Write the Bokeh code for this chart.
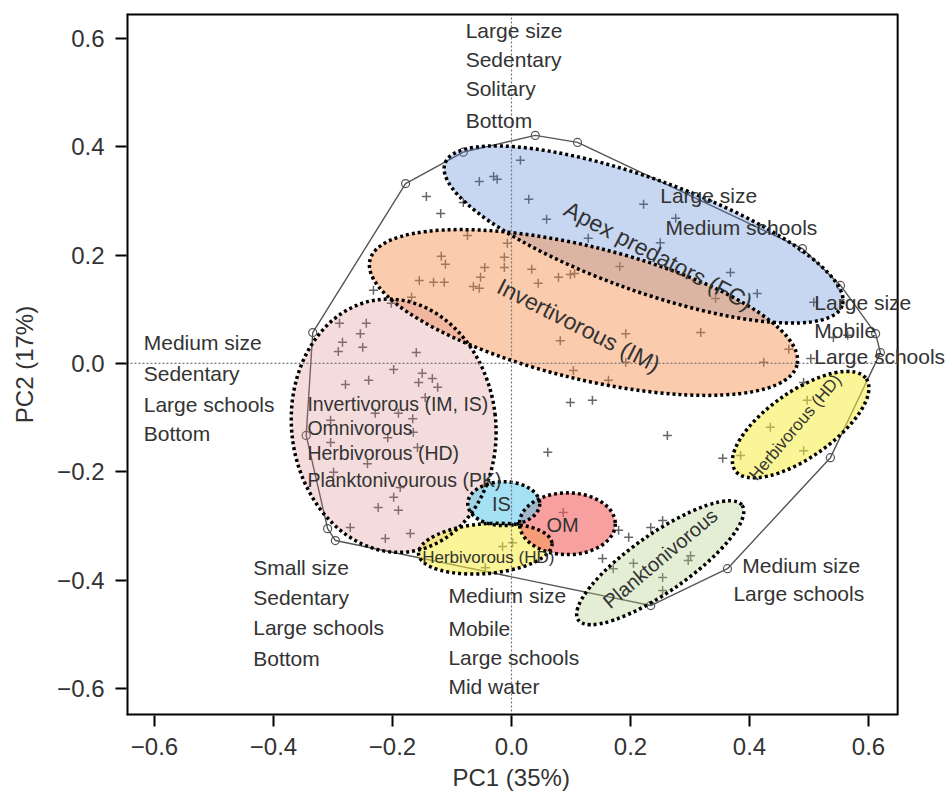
from bokeh.plotting import figure
from bokeh.models import Range1d, FixedTicker, ColumnDataSource, Title
from bokeh.embed import file_html
from bokeh.resources import INLINE
from bokeh.core.properties import value

# ---------------- data ----------------
pc1 = [0.015, -0.054, -0.030, -0.024, 0.029, 0.059, -0.143, -0.119, -0.081, 0.222,
       0.129, 0.250, 0.276, 0.368, 0.343, 0.413, 0.508, 0.182, -0.074, -0.007,
       -0.118, -0.111, -0.045, -0.012, -0.012, 0.034, -0.155, -0.131, -0.113, -0.052,
       -0.064, -0.054, 0.045, 0.079, 0.099, 0.106, -0.232, -0.168, -0.202, 0.082,
       0.192, 0.318, 0.104, 0.163, 0.424, 0.466, 0.192, 0.541, 0.565, 0.503,
       0.491, -0.289, -0.244, -0.284, -0.254, -0.250, -0.291, -0.160, -0.198, -0.240,
       -0.279, -0.150, -0.133, -0.156, -0.124, -0.145, -0.304, -0.229, -0.190, -0.166,
       -0.165, -0.208, -0.304, -0.242, -0.158, -0.299, -0.187, -0.198, -0.224, -0.190,
       -0.271, -0.212, -0.170, 0.061, 0.087, -0.015, 0.002, -0.044, 0.180, 0.197,
       0.153, 0.171, 0.205, 0.234, 0.254, 0.297, 0.301, 0.254, 0.254, 0.099,
       0.136, 0.262, 0.355, 0.385, 0.435, 0.491, 0.497]
pc2 = [0.375, 0.336, 0.345, 0.340, 0.303, 0.266, 0.308, 0.277, 0.297, 0.294,
       0.231, 0.223, 0.268, 0.168, 0.120, 0.129, 0.113, 0.179, 0.236, 0.222,
       0.198, 0.183, 0.177, 0.196, 0.177, 0.174, 0.153, 0.150, 0.150, 0.159,
       0.142, 0.139, 0.148, 0.159, 0.164, 0.166, 0.135, 0.122, 0.111, 0.042,
       0.055, 0.057, -0.013, -0.031, 0.002, 0.026, 0.002, 0.048, 0.052, 0.009,
       -0.035, 0.074, 0.074, 0.039, 0.055, 0.030, 0.022, 0.020, -0.011, -0.031,
       -0.039, -0.018, -0.028, -0.035, -0.044, -0.063, -0.105, -0.092, -0.092, -0.102,
       -0.127, -0.137, -0.146, -0.185, -0.155, -0.201, -0.229, -0.247, -0.266, -0.271,
       -0.303, -0.323, -0.314, -0.164, -0.275, -0.338, -0.331, -0.377, -0.308, -0.321,
       -0.360, -0.379, -0.369, -0.303, -0.290, -0.364, -0.355, -0.395, -0.419, -0.072,
       -0.068, -0.133, -0.175, -0.170, -0.118, -0.161, -0.068]

hull_pc1 = [-0.334, -0.178, -0.081, 0.040, 0.111, 0.489, 0.553, 0.612, 0.620,
            0.536, 0.363, 0.234, -0.296, -0.309, -0.345]
hull_pc2 = [0.057, 0.332, 0.390, 0.421, 0.408, 0.212, 0.144, 0.055, 0.020,
            -0.174, -0.379, -0.447, -0.327, -0.305, -0.133]

# ellipses (drawing order)
ell_x = [0.222, 0.121, -0.198, -0.044, 0.094, -0.013, 0.250, 0.486]
ell_y = [0.238, 0.094, -0.115, -0.342, -0.296, -0.259, -0.368, -0.113]
ell_w = [0.709, 0.739, 0.343, 0.225, 0.161, 0.121, 0.336, 0.269]
ell_h = [0.207, 0.244, 0.469, 0.092, 0.114, 0.081, 0.107, 0.122]
ell_angle = [-0.344, -0.241, 0.12, 0.08, 0.0, 0.0, 0.61, 0.61]
ell_color = ["#4678d2", "#f58c46", "#d78282", "#f6ed40", "#f36161", "#5bc8ed", "#b2ce84", "#f6ed40"]
ell_alpha = [0.30, 0.45, 0.28, 0.55, 0.60, 0.55, 0.35, 0.55]

# trait annotations
trait_text = ["Large size", "Sedentary", "Solitary", "Bottom",
              "Large size", "Medium schools",
              "Large size", "Mobile", "Large schools",
              "Medium size", "Sedentary", "Large schools", "Bottom",
              "Small size", "Sedentary", "Large schools", "Bottom",
              "Medium size", "Mobile", "Large schools", "Mid water",
              "Medium size", "Large schools"]
trait_x = [-0.077, -0.077, -0.077, -0.077,
           0.250, 0.259,
           0.509, 0.509, 0.509,
           -0.618, -0.618, -0.618, -0.618,
           -0.434, -0.434, -0.434, -0.434,
           -0.106, -0.106, -0.106, -0.106,
           0.388, 0.373]
trait_y = [0.615, 0.561, 0.508, 0.449,
           0.310, 0.251,
           0.113, 0.061, 0.013,
           0.039, -0.018, -0.076, -0.129,
           -0.377, -0.432, -0.488, -0.545,
           -0.428, -0.489, -0.543, -0.596,
           -0.373, -0.425]

diet_text = ["Invertivorous (IM, IS)", "Omnivorous", "Herbivorous (HD)", "Planktonivourous (PK)"]
diet_x = [-0.343, -0.343, -0.343, -0.343]
diet_y = [-0.074, -0.120, -0.166, -0.216]

group_text = ["Apex predators (FC)", "Invertivorous (IM)", "IS", "OM",
              "Herbivorous (HD)", "Planktonivorous", "Herbivorous (HD)"]
group_x = [0.247, 0.113, -0.017, 0.086, -0.039, 0.250, 0.477]
group_y = [0.199, 0.070, -0.260, -0.299, -0.358, -0.360, -0.118]
group_angle = [-0.48, -0.47, 0.0, 0.0, 0.0, 0.70, 0.87]
group_size = ["23px", "23px", "20px", "20px", "17px", "20px", "17px"]

ticks = [-0.6, -0.4, -0.2, 0.0, 0.2, 0.4, 0.6]
tick_labels = ["\u22120.6", "\u22120.4", "\u22120.2", "0.0", "0.2", "0.4", "0.6"]
x_title = "PC1 (35%)"
y_title = "PC2 (17%)"

# axis limits of the boxed panel
X0, X1 = -0.647, 0.649
Y0, Y1 = -0.650, 0.646
X_VIEW_END = 0.7395   # canvas runs past the box so right-hand labels can overhang

FONT = "Liberation Sans"
TXT = "#333333"

# ---------------- figure ----------------
p = figure(width=951, height=795, output_backend="svg", toolbar_location=None,
           x_range=Range1d(X0, X_VIEW_END), y_range=Range1d(Y0, Y1),
           frame_width=825, frame_height=702,
           min_border_left=126, min_border_top=13, min_border_right=0, min_border_bottom=40)
p.grid.visible = False
p.outline_line_color = None
p.background_fill_color = "white"

for ax in (p.xaxis, p.yaxis):
    ax.ticker = FixedTicker(ticks=ticks)
    ax.major_label_overrides = dict(zip(ticks, tick_labels))
    ax.axis_line_color = None
    ax.major_tick_in = 0
    ax.major_tick_out = 11
    ax.major_tick_line_width = 2
    ax.major_tick_line_color = "black"
    ax.minor_tick_line_color = None
    ax.major_label_text_font = FONT
    ax.major_label_text_font_size = "24px"
    ax.major_label_text_color = TXT
    ax.major_label_standoff = 11
    ax.axis_label_text_font = FONT
    ax.axis_label_text_font_size = "24px"
    ax.axis_label_text_font_style = "normal"
    ax.axis_label_text_color = TXT
p.yaxis.axis_label = y_title
p.yaxis.axis_label_standoff = 16

# x title centred under the boxed panel (not under the wider canvas)
p.add_layout(Title(text=x_title, align="left", offset=326, standoff=8,
                   text_font=FONT, text_font_size="24px", text_font_style="normal",
                   text_color=TXT), "below")

# points
p.scatter(pc1, pc2, marker="cross", size=9, line_color="#666666", line_width=1.5)

# convex hull
p.line(hull_pc1 + hull_pc1[:1], hull_pc2 + hull_pc2[:1], line_color="#555555", line_width=1.4)
p.scatter(hull_pc1, hull_pc2, marker="circle", size=8, fill_color=None,
          line_color="#555555", line_width=1.2)

# ellipses
esrc = ColumnDataSource(dict(x=ell_x, y=ell_y, w=ell_w, h=ell_h, a=ell_angle,
                             c=ell_color, al=ell_alpha))
p.ellipse(x="x", y="y", width="w", height="h", angle="a", source=esrc,
          fill_color="c", fill_alpha="al", line_color=None)
p.ellipse(x="x", y="y", width="w", height="h", angle="a", source=esrc,
          fill_color=None, line_color="black", line_width=3.5, line_dash="3 3")

# zero lines (limited to the box)
p.segment(x0=[0, X0], y0=[Y0, 0], x1=[0, X1], y1=[Y1, 0],
          line_color="#777777", line_width=1.2, line_dash="2 2")

# panel box: left/top/bottom edges sit on the frame edge (half clipped), right edge inside
p.segment(x0=[X0, X0, X0], y0=[Y0, Y1, Y0], x1=[X0, X1, X1], y1=[Y1, Y1, Y0],
          line_color="black", line_width=4)
p.segment(x0=[X1], y0=[Y0], x1=[X1], y1=[Y1], line_color="black", line_width=2)

# texts
p.text(trait_x, trait_y, text=trait_text, text_font=value(FONT), text_font_size=value("21px"),
       text_align="left", text_baseline="middle", text_color=TXT)
p.text(diet_x, diet_y, text=diet_text, text_font=value(FONT), text_font_size=value("19.5px"),
       text_align="left", text_baseline="middle", text_color=TXT)
gsrc = ColumnDataSource(dict(x=group_x, y=group_y, t=group_text, a=group_angle, s=group_size))
p.text(x="x", y="y", text="t", angle="a", text_font_size="s", source=gsrc,
       text_font=value(FONT), text_align="center", text_baseline="middle", text_color=TXT)

open("out.html", "w").write(file_html(p, INLINE))
